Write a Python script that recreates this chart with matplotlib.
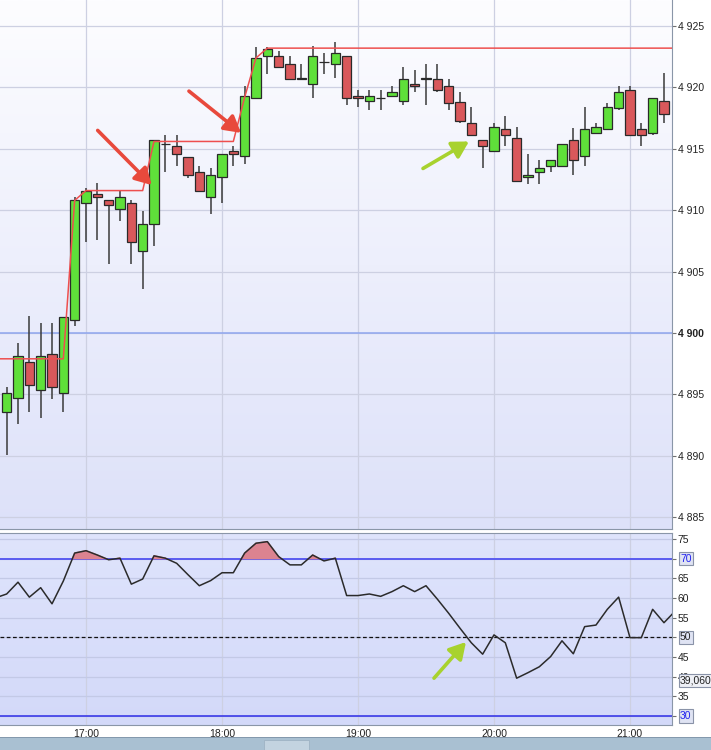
import matplotlib
matplotlib.use("Agg")
import matplotlib.pyplot as plt
from matplotlib.colors import LinearSegmentedColormap
from matplotlib.patches import Rectangle
from matplotlib.transforms import blended_transform_factory
import numpy as np

plt.rcParams["font.family"] = ["Liberation Sans", "DejaVu Sans"]

# 5-minute candles, 16:25 .. 21:15
first_candle = 16 + 25 / 60
step = 5 / 60
opens = [4893.6, 4894.7, 4897.6, 4895.4, 4898.3, 4895.1, 4901.1, 4910.6, 4911.3, 4910.8,
         4910.1, 4910.6, 4906.7, 4908.9, 4915.4, 4915.2, 4914.3, 4913.1, 4911.1, 4912.7,
         4914.8, 4914.4, 4919.1, 4922.6, 4922.6, 4921.9, 4920.8, 4920.3, 4922.1, 4921.9,
         4922.6, 4919.3, 4918.9, 4919.1, 4919.3, 4918.9, 4920.3, 4920.7, 4920.7, 4920.1,
         4918.8, 4917.1, 4915.7, 4914.8, 4916.6, 4915.9, 4912.7, 4913.1, 4913.6, 4913.6,
         4915.7, 4914.4, 4916.3, 4916.6, 4918.3, 4919.8, 4916.6, 4916.3, 4918.9]
closes = [4895.1, 4898.1, 4895.8, 4898.1, 4895.6, 4901.3, 4910.8, 4911.6, 4911.1, 4910.4,
          4911.1, 4907.4, 4908.9, 4915.7, 4915.4, 4914.6, 4912.9, 4911.6, 4912.9, 4914.6,
          4914.6, 4919.3, 4922.4, 4923.1, 4921.7, 4920.7, 4920.7, 4922.6, 4922.1, 4922.8,
          4919.1, 4919.1, 4919.3, 4919.1, 4919.6, 4920.7, 4920.1, 4920.8, 4919.8, 4918.7,
          4917.3, 4916.1, 4915.2, 4916.8, 4916.1, 4912.4, 4912.9, 4913.4, 4914.1, 4915.4,
          4914.1, 4916.6, 4916.8, 4918.4, 4919.6, 4916.1, 4916.1, 4919.1, 4917.8]
highs = [4895.6, 4899.2, 4901.4, 4900.8, 4900.8, 4901.3, 4911.1, 4911.8, 4912.2, 4910.8,
         4911.6, 4910.8, 4909.9, 4915.7, 4916.1, 4916.1, 4914.3, 4913.6, 4913.4, 4914.6,
         4915.2, 4920.1, 4923.3, 4923.3, 4923.0, 4922.6, 4921.9, 4923.4, 4922.8, 4923.7,
         4922.6, 4919.8, 4919.8, 4919.8, 4920.1, 4921.7, 4921.4, 4921.9, 4921.9, 4920.7,
         4919.6, 4918.4, 4915.7, 4917.1, 4917.7, 4916.8, 4914.6, 4914.1, 4914.1, 4915.4,
         4916.7, 4918.4, 4917.1, 4918.7, 4920.1, 4920.1, 4917.1, 4919.1, 4921.2]
lows = [4890.1, 4892.6, 4893.6, 4893.1, 4894.6, 4893.6, 4900.6, 4907.4, 4907.6, 4905.6,
        4909.1, 4905.6, 4903.6, 4907.1, 4913.1, 4913.6, 4912.6, 4911.6, 4909.7, 4910.6,
        4913.6, 4913.8, 4919.1, 4921.1, 4921.7, 4920.7, 4920.7, 4919.1, 4921.1, 4920.8,
        4918.6, 4918.4, 4918.2, 4918.2, 4919.3, 4918.6, 4919.6, 4918.6, 4919.6, 4918.2,
        4917.1, 4916.1, 4913.4, 4914.8, 4915.2, 4912.4, 4912.1, 4912.1, 4913.1, 4913.6,
        4912.9, 4913.6, 4916.3, 4916.6, 4918.2, 4916.1, 4915.2, 4916.1, 4917.1]

# stepped red line and RSI start one bar earlier (16:20)
first_line = 16 + 20 / 60
high_line = ([4897.9] * 7 + [4910.8] + [4911.6] * 6 + [4915.6] * 8
             + [4919.2, 4922.4] + [4923.2] * 36)
rsi = [60.0,
       61.0, 64.0, 60.2, 62.6, 58.5, 64.3, 71.4, 72.0, 70.9, 69.7,
       70.1, 63.5, 64.8, 70.7, 70.1, 68.8, 65.9, 63.1, 64.4, 66.4,
       66.4, 71.4, 73.9, 74.3, 70.5, 68.4, 68.4, 70.9, 69.4, 70.1,
       60.6, 60.6, 61.0, 60.4, 61.6, 63.1, 61.6, 63.1, 59.7, 56.1,
       52.3, 48.6, 45.7, 50.6, 48.6, 39.6, 41.0, 42.5, 45.1, 49.1,
       45.8, 52.7, 53.1, 57.1, 60.2, 49.9, 49.9, 57.1, 53.7,
       56.7]
rsi_marker = 39.06

price_ticks = [4885, 4890, 4895, 4900, 4905, 4910, 4915, 4920, 4925]
rsi_ticks = [30, 35, 40, 45, 50, 55, 60, 65, 70, 75]
rsi_boxed = [30, 50, 70]
hour_ticks = [17, 18, 19, 20, 21]

# annotation arrows (tail, head) in data units
red_arrows = [((17.086, 4916.5), (17.483, 4912.05)),
              ((17.757, 4919.7), (18.140, 4916.3))]
green_arrow_price = ((19.478, 4913.4), (19.816, 4915.6))
green_arrow_rsi = ((19.559, 39.6), (19.794, 48.8))

XLIM = (16.3676, 21.309)
GREEN, RED = "#5fe03a", "#d9585b"
GRID = "#cdd0e2"
SPINE = "#8a96a8"


def gradient(ax, top, bottom):
    cmap = LinearSegmentedColormap.from_list("bg", [bottom, top])
    ax.imshow(np.linspace(0, 1, 256).reshape(-1, 1), cmap=cmap, origin="lower",
              extent=(0, 1, 0, 1), transform=ax.transAxes, aspect="auto", zorder=0)


def style_axis(ax):
    for side in ("left", "top"):
        ax.spines[side].set_visible(False)
    for side in ("right", "bottom", "top"):
        ax.spines[side].set_color(SPINE)
    ax.yaxis.tick_right()
    ax.tick_params(axis="y", length=3, width=0.8, color="#707070", pad=1,
                   labelsize=7.5, labelcolor="#222222")
    ax.set_xticks(hour_ticks)
    for h in hour_ticks:
        ax.axvline(h, color=GRID, lw=0.9, zorder=1)


def arrow(ax, tail, head, color):
    ax.annotate("", xy=head, xytext=tail,
                arrowprops=dict(arrowstyle="-|>,head_length=0.7,head_width=0.4",
                                lw=2.6, color=color, shrinkA=0, shrinkB=0,
                                mutation_scale=14),
                zorder=8)


fig = plt.figure(figsize=(7.11, 7.5), dpi=100)
ax = fig.add_axes([0, 1 - 529 / 750, 672 / 711, 529 / 750])
ax2 = fig.add_axes([0, 1 - 725 / 750, 672 / 711, 192 / 750])

# ---- price panel
gradient(ax, "#fdfdff", "#dde1f9")
style_axis(ax)
ax.tick_params(axis="x", length=0, labelbottom=False)
for p in price_ticks:
    ax.axhline(p, color=GRID, lw=0.9, zorder=1)
ax.axhline(4900, color="#8ea6ef", lw=1.1, zorder=2)

t = first_candle + step * np.arange(len(opens))
o, c, h, l = map(np.array, (opens, closes, highs, lows))
ax.vlines(t, l, h, color="#3a3a3a", lw=1.1, zorder=3)
colors = np.where(c >= o, GREEN, RED)
ax.bar(t, c - o, bottom=o, width=step * 0.8, color=colors, edgecolor="#2a2a2a",
       linewidth=0.9, zorder=4)

tl = first_line + step * np.arange(len(high_line))
ax.plot(list(tl) + [XLIM[1]], high_line + [high_line[-1]], color="#ee4f4f",
        lw=1.1, zorder=5)

ax.set_xlim(*XLIM)
ax.set_ylim(4884.04, 4927.12)
ax.set_yticks(price_ticks, [f"{p:,}".replace(",", " ") for p in price_ticks])
for lbl in ax.get_yticklabels():
    if lbl.get_text() == "4 900":
        lbl.set_fontweight("bold")

for tail, head in red_arrows:
    arrow(ax, tail, head, "#e8493c")
arrow(ax, *green_arrow_price, "#a8d22e")

# ---- RSI panel
gradient(ax2, "#dfe4fc", "#d3d9f9")
style_axis(ax2)
ax2.spines["top"].set_visible(True)
for v in rsi_ticks:
    ax2.axhline(v, color="#c3c9e6", lw=0.9, zorder=1)
ax2.axhline(70, color="#5a5cf0", lw=1.4, zorder=2)
ax2.axhline(30, color="#3a3ae8", lw=1.2, zorder=2)
ax2.axhline(50, color="#111111", lw=0.9, ls=(0, (3, 2)), zorder=2)

tr = first_line + step * np.arange(len(rsi))
r = np.array(rsi)
ax2.fill_between(tr, r, 70, where=r > 70, interpolate=True, color="#dc8390", zorder=3)
ax2.plot(tr, r, color="#2b2b2b", lw=1.1, zorder=4)

ax2.set_xlim(*XLIM)
ax2.set_ylim(27.7, 76.5)
ax2.set_yticks(rsi_ticks, ["" if v in rsi_boxed else str(v) for v in rsi_ticks])
ax2.set_xticklabels([f"{h}:00" for h in hour_ticks])
ax2.tick_params(axis="x", length=0, pad=3, labelsize=7.5, labelcolor="#222222")

trans = blended_transform_factory(ax2.transAxes, ax2.transData)
box = dict(boxstyle="square,pad=0.15", fc="#dfe3f3", ec="#8a93a8", lw=0.8)
for v in rsi_boxed:
    ax2.text(1.012, v, str(v), transform=trans, ha="left", va="center", fontsize=7.5,
             color="#2222ee" if v != 50 else "#222222", bbox=box, clip_on=False)
ax2.text(1.012, rsi_marker, f"{rsi_marker:.3f}".replace(".", ","), transform=trans,
         ha="left", va="center", fontsize=7.5, color="#222222",
         bbox=dict(boxstyle="square,pad=0.15", fc="#eef0f6", ec="#8a93a8", lw=0.8),
         clip_on=False, zorder=10)

arrow(ax2, *green_arrow_rsi, "#a8d22e")

# scrollbar strip at the bottom of the window
fig.patches.append(Rectangle((0, 0), 1, 12 / 750, transform=fig.transFigure,
                             fc="#a9c0d2", ec="none"))
fig.patches.append(Rectangle((0, 12 / 750), 1, 1.2 / 750, transform=fig.transFigure,
                             fc="#8499ad", ec="none"))
fig.patches.append(Rectangle((264 / 711, 0), 45 / 711, 10 / 750, transform=fig.transFigure,
                             fc="#c3d3e0", ec="#9fb3c4", lw=0.6))

fig.savefig("out.png", dpi=100)
